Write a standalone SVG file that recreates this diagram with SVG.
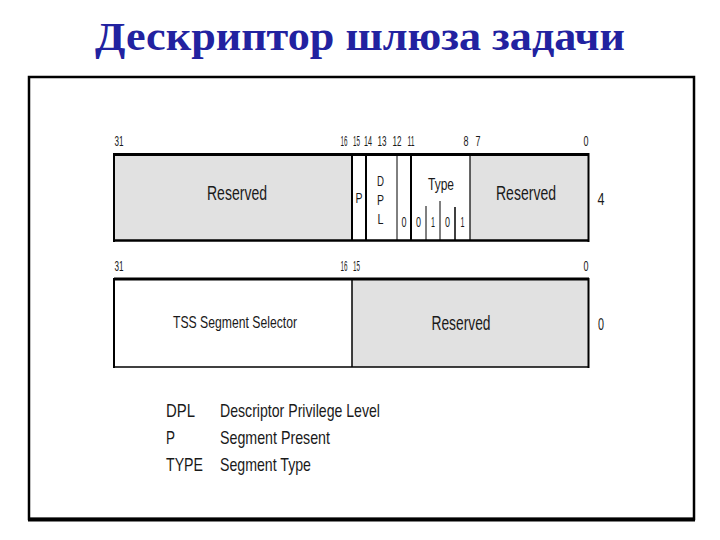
<svg xmlns="http://www.w3.org/2000/svg" width="720" height="540" viewBox="0 0 720 540">
<style>
.t{font-family:"Liberation Sans",Arial,sans-serif;fill:#1a1a1a}
.n{font-size:14px;text-anchor:middle}
.c{text-anchor:middle}
.g{fill:#e1e1e1}
.w{fill:#ffffff}
.ln{stroke:#000;fill:none}
</style>
<rect width="720" height="540" fill="#ffffff"/>
<text x="360" y="50" text-anchor="middle" font-family="'Liberation Serif','Times New Roman',serif" font-weight="bold" font-size="39" fill="#2222a0" textLength="530" lengthAdjust="spacingAndGlyphs">Дескриптор шлюза задачи</text>
<g id="frame">
<rect x="29" y="77" width="665" height="442" class="ln" stroke-width="2.5"/>
<line x1="28" y1="519.5" x2="695" y2="519.5" stroke="#000" stroke-width="4"/>
</g>
<g id="word4">
<rect x="114" y="154.5" width="238" height="86" class="g"/>
<rect x="352" y="154.5" width="118" height="86" class="w"/>
<rect x="470" y="154.5" width="119" height="86" class="g"/>
<line x1="114" y1="154.5" x2="589" y2="154.5" class="ln" stroke-width="3"/>
<line x1="114" y1="240.5" x2="589" y2="240.5" class="ln" stroke-width="2.5"/>
<line x1="114" y1="153" x2="114" y2="242" class="ln" stroke-width="2"/>
<line x1="588.5" y1="153" x2="588.5" y2="242" class="ln" stroke-width="2"/>
<line x1="352" y1="154" x2="352" y2="241" class="ln" stroke-width="2"/>
<line x1="366" y1="154" x2="366" y2="241" class="ln" stroke-width="2"/>
<line x1="397" y1="154" x2="397" y2="241" class="ln" stroke-width="1"/>
<line x1="411" y1="154" x2="411" y2="241" class="ln" stroke-width="2"/>
<line x1="470" y1="154" x2="470" y2="241" class="ln" stroke-width="1.2"/>
<line x1="426" y1="206" x2="426" y2="241" class="ln" stroke-width="1"/>
<line x1="440" y1="201" x2="440" y2="241" class="ln" stroke-width="1"/>
<line x1="455" y1="207" x2="455" y2="241" class="ln" stroke-width="1.5"/>
<text class="t n" x="119" y="146" textLength="9" lengthAdjust="spacingAndGlyphs">31</text>
<text class="t n" x="344" y="146" textLength="7" lengthAdjust="spacingAndGlyphs">16</text>
<text class="t n" x="356.5" y="146" textLength="7" lengthAdjust="spacingAndGlyphs">15</text>
<text class="t n" x="368" y="146" textLength="8" lengthAdjust="spacingAndGlyphs">14</text>
<text class="t n" x="382" y="146" textLength="9" lengthAdjust="spacingAndGlyphs">13</text>
<text class="t n" x="397" y="146" textLength="9" lengthAdjust="spacingAndGlyphs">12</text>
<text class="t n" x="411" y="146" textLength="7" lengthAdjust="spacingAndGlyphs">11</text>
<text class="t n" x="466" y="146" textLength="5" lengthAdjust="spacingAndGlyphs">8</text>
<text class="t n" x="478" y="146" textLength="5" lengthAdjust="spacingAndGlyphs">7</text>
<text class="t n" x="586" y="146" textLength="5" lengthAdjust="spacingAndGlyphs">0</text>
<text class="t c" x="237" y="200" font-size="20" textLength="60" lengthAdjust="spacingAndGlyphs">Reserved</text>
<text class="t c" x="359" y="203" font-size="15" textLength="7" lengthAdjust="spacingAndGlyphs">P</text>
<text class="t c" x="380.5" y="186" font-size="15" textLength="7" lengthAdjust="spacingAndGlyphs">D</text>
<text class="t c" x="380.5" y="205" font-size="15" textLength="7" lengthAdjust="spacingAndGlyphs">P</text>
<text class="t c" x="380.5" y="224" font-size="15" textLength="6" lengthAdjust="spacingAndGlyphs">L</text>
<text class="t c" x="441" y="190" font-size="17" textLength="26" lengthAdjust="spacingAndGlyphs">Type</text>
<text class="t n" x="404" y="227" font-size="15" textLength="5" lengthAdjust="spacingAndGlyphs">0</text>
<text class="t n" x="418.5" y="227" font-size="15" textLength="5" lengthAdjust="spacingAndGlyphs">0</text>
<text class="t n" x="433" y="227" font-size="15" textLength="4" lengthAdjust="spacingAndGlyphs">1</text>
<text class="t n" x="447.5" y="227" font-size="15" textLength="5" lengthAdjust="spacingAndGlyphs">0</text>
<text class="t n" x="462.5" y="227" font-size="15" textLength="4" lengthAdjust="spacingAndGlyphs">1</text>
<text class="t c" x="526" y="200" font-size="20" textLength="60" lengthAdjust="spacingAndGlyphs">Reserved</text>
<text class="t c" x="601" y="205" font-size="17" textLength="7" lengthAdjust="spacingAndGlyphs">4</text>
</g>
<g id="word0">
<rect x="114" y="279" width="238" height="88" class="w"/>
<rect x="352" y="279" width="237" height="88" class="g"/>
<line x1="114" y1="279" x2="589" y2="279" class="ln" stroke-width="3"/>
<line x1="114" y1="367" x2="589" y2="367" class="ln" stroke-width="1.5"/>
<line x1="114" y1="278" x2="114" y2="368" class="ln" stroke-width="2"/>
<line x1="588.5" y1="278" x2="588.5" y2="368" class="ln" stroke-width="2"/>
<line x1="352" y1="279" x2="352" y2="367" class="ln" stroke-width="1.5"/>
<text class="t n" x="119" y="271" textLength="9" lengthAdjust="spacingAndGlyphs">31</text>
<text class="t n" x="344" y="271" textLength="7" lengthAdjust="spacingAndGlyphs">16</text>
<text class="t n" x="356.5" y="271" textLength="7" lengthAdjust="spacingAndGlyphs">15</text>
<text class="t n" x="586" y="271" textLength="5" lengthAdjust="spacingAndGlyphs">0</text>
<text class="t c" x="235" y="328" font-size="17" textLength="124" lengthAdjust="spacingAndGlyphs">TSS Segment Selector</text>
<text class="t c" x="461" y="330" font-size="20" textLength="59" lengthAdjust="spacingAndGlyphs">Reserved</text>
<text class="t c" x="601" y="330" font-size="17" textLength="6" lengthAdjust="spacingAndGlyphs">0</text>
</g>
<g id="legend">
<text class="t" x="166" y="417" font-size="19" textLength="29" lengthAdjust="spacingAndGlyphs">DPL</text>
<text class="t" x="220" y="417" font-size="19" textLength="160" lengthAdjust="spacingAndGlyphs">Descriptor Privilege Level</text>
<text class="t" x="166" y="444" font-size="19" textLength="9" lengthAdjust="spacingAndGlyphs">P</text>
<text class="t" x="220" y="444" font-size="19" textLength="110" lengthAdjust="spacingAndGlyphs">Segment Present</text>
<text class="t" x="166" y="471" font-size="19" textLength="37" lengthAdjust="spacingAndGlyphs">TYPE</text>
<text class="t" x="220" y="471" font-size="19" textLength="91" lengthAdjust="spacingAndGlyphs">Segment Type</text>
</g>
</svg>
